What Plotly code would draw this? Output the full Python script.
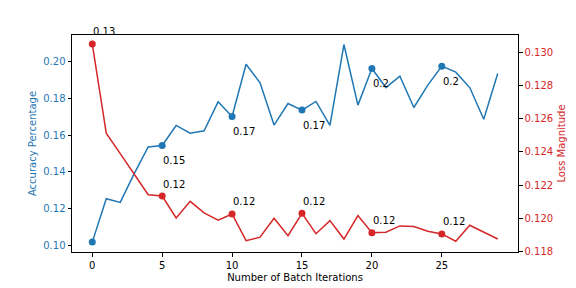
import plotly.graph_objects as go

iterations = list(range(30))
accuracy = [0.1016, 0.1253, 0.1233, 0.1390, 0.1536, 0.1544, 0.1653, 0.1611, 0.1624, 0.1782,
            0.1702, 0.1987, 0.1886, 0.1655, 0.1773, 0.1737, 0.1784, 0.1653, 0.2095, 0.1764,
            0.1964, 0.1860, 0.1922, 0.1751, 0.1873, 0.1977, 0.1944, 0.1860, 0.1687, 0.1937]
loss = [0.13050, 0.12513, 0.12390, 0.12267, 0.12143, 0.12135, 0.12003, 0.12103, 0.12033, 0.11989,
        0.12027, 0.11866, 0.11887, 0.12001, 0.11896, 0.12031, 0.11908, 0.11987, 0.11876, 0.12017,
        0.11914, 0.11917, 0.11955, 0.11951, 0.11923, 0.11907, 0.11863, 0.11959, 0.11919, 0.11876]
marked = [0, 5, 10, 15, 20, 25]

BLUE = "#1f77b4"
RED = "#d62728"
FONT = "DejaVu Sans"

fig = go.Figure()
fig.add_trace(go.Scatter(x=iterations, y=accuracy, mode="lines",
                         line=dict(color=BLUE, width=1.5), yaxis="y", showlegend=False))
fig.add_trace(go.Scatter(x=marked, y=[accuracy[i] for i in marked], mode="markers",
                         marker=dict(color=BLUE, size=7), yaxis="y", showlegend=False))
fig.add_trace(go.Scatter(x=iterations, y=loss, mode="lines",
                         line=dict(color=RED, width=1.5), yaxis="y2", showlegend=False))
fig.add_trace(go.Scatter(x=marked, y=[loss[i] for i in marked], mode="markers",
                         marker=dict(color=RED, size=7), yaxis="y2", showlegend=False))

annotations = []
for i in marked:
    if i != 0:
        annotations.append(dict(x=i, y=accuracy[i], xref="x", yref="y",
                                text=f"{round(accuracy[i], 2)}", showarrow=False,
                                xanchor="left", yanchor="middle", yshift=-15, xshift=-1,
                                font=dict(family=FONT, size=10, color="black")))
    annotations.append(dict(x=i, y=loss[i], xref="x", yref="y2",
                            text=f"{round(loss[i], 2)}", showarrow=False,
                            xanchor="left", yanchor="middle", yshift=12, xshift=-1,
                            font=dict(family=FONT, size=10, color="black")))

axis_common = dict(showgrid=False, zeroline=False, showline=True, linecolor="black",
                   linewidth=1, ticks="outside", ticklen=3.5, tickwidth=0.8, tickcolor="black",
                   automargin=False)

# page body has an 8px default margin: size the figure so the plot area lands where it should
fig.update_layout(
    width=568, height=280,
    margin=dict(l=64, r=58, t=27, b=36),
    paper_bgcolor="white", plot_bgcolor="white",
    font=dict(family=FONT, size=10, color="black"),
    annotations=annotations,
    xaxis=dict(range=[-1.45, 30.45], tickvals=[0, 5, 10, 15, 20, 25], mirror=True,
               title=dict(text="Number of Batch Iterations", font=dict(size=10), standoff=4),
               **axis_common),
    yaxis=dict(range=[0.0962, 0.2147], tickvals=[0.10, 0.12, 0.14, 0.16, 0.18, 0.20],
               tickformat=".2f", tickfont=dict(color=BLUE),
               title=dict(text="Accuracy Percentage", font=dict(size=10, color=BLUE), standoff=4),
               **axis_common),
    yaxis2=dict(range=[0.11798, 0.13104], overlaying="y", side="right",
                tickvals=[0.118, 0.120, 0.122, 0.124, 0.126, 0.128, 0.130],
                tickformat=".3f", tickfont=dict(color=RED),
                title=dict(text="Loss Magnitude", font=dict(size=10, color=RED), standoff=5),
                **axis_common),
)

fig.write_html("out.html")
